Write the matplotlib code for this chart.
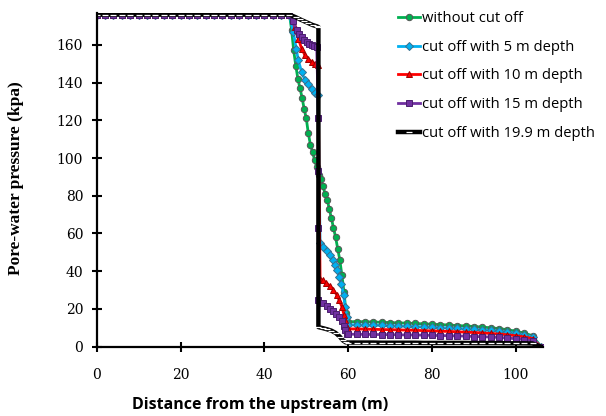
import matplotlib.pyplot as plt

# 上游段 (所有方案相同)
up_x = [0, 2, 4, 6, 8, 10, 12, 14, 16, 18, 20, 22, 24, 26, 28, 30, 32, 34, 36, 38, 40, 42, 44, 46]
up_p = [176.0, 176.0, 176.0, 176.0, 176.0, 176.0, 176.0, 176.0, 176.0, 176.0, 176.0, 176.0,
        176.0, 176.0, 176.0, 176.0, 176.0, 176.0, 176.0, 176.0, 176.0, 176.0, 176.0, 176.0]

# 下游段横坐标
down_x = [60, 62, 64, 66, 68, 70, 72, 74, 76, 78, 80, 82, 84, 86, 88, 90, 92, 94, 96, 98, 100, 102, 104]
end_x = [106]
end_p = [0.0]

# 无截渗墙
green_x = [46.5, 47.0, 47.5, 48.0, 48.5, 49.0, 49.5, 50.0, 50.5, 51.0, 51.5, 52.0, 52.5, 53.0,
           53.5, 54.0, 54.5, 55.0, 55.5, 56.0, 56.5, 57.0, 57.5, 58.0, 58.5, 59.0, 59.5]
green_p = [168, 157, 149, 142, 137, 132, 126, 121, 113, 107, 103, 99, 95, 91,
           89, 85, 81, 78, 73, 68, 63, 58, 52, 46, 38, 29, 18]
green_down = [13.2, 13.3, 13.2, 13.1, 12.9, 12.8, 12.6, 12.5, 12.3, 12.1, 11.9, 11.7,
              11.5, 11.2, 11.0, 10.7, 10.4, 10.0, 9.6, 9.0, 8.2, 7.2, 5.8]

# 5 m
blue_x = [46.9, 47.6, 48.1, 48.9, 49.7, 50.5, 51.3, 52.1, 52.8, 53.3, 54.1, 55.0, 55.7,
          56.3, 56.9, 57.4, 57.9, 58.4, 58.9, 59.3, 59.7]
blue_p = [166.8, 158, 151.8, 145.6, 141.2, 139, 136.5, 134.5, 133.5, 55, 52.9, 50.5, 48.5,
          46, 43.2, 40.5, 37, 33, 27.4, 21, 15.9]
blue_down = [11.6, 11.6, 11.5, 11.4, 11.3, 11.1, 11.0, 10.8, 10.7, 10.5, 10.3, 10.1,
             9.9, 9.7, 9.5, 9.2, 8.9, 8.6, 8.2, 7.7, 7.1, 6.3, 5.0]

# 10 m
red_x = [47.3, 48.1, 48.9, 49.7, 50.5, 51.3, 52.1, 52.8, 53.3, 53.9, 54.8, 55.7, 56.5,
         57.3, 57.9, 58.5, 59.0, 59.3, 59.8]
red_p = [169.4, 163.3, 158, 154.4, 152.5, 151, 150, 149.5, 36, 35.3, 33.8, 32.1, 30,
         27.4, 24.5, 21.2, 17, 14.1, 10.6]
red_down = [9.4, 9.4, 9.3, 9.2, 9.1, 9.0, 8.9, 8.8, 8.7, 8.5, 8.4, 8.2,
            8.1, 7.9, 7.7, 7.5, 7.3, 7.0, 6.7, 6.3, 5.8, 5.2, 4.3]

# 15 m
purple_x = [46.8, 47.7, 48.3, 48.9, 49.5, 50.1, 50.7, 51.3, 51.9, 52.5, 52.9, 52.9, 52.9, 52.9,
            53.9, 54.9, 55.6, 56.4, 57.2, 57.9, 58.5, 58.9, 59.3, 59.7]
purple_p = [172.4, 167.7, 165.8, 164.1, 162.7, 161.5, 160.5, 159.7, 159.2, 158.8, 121, 93, 63, 24.7,
            23, 21.5, 20.2, 18.9, 17.4, 15.9, 13.5, 11.1, 9, 6.7]
purple_down = [6.6, 6.6, 6.5, 6.5, 6.4, 6.4, 6.3, 6.2, 6.2, 6.1, 6.0, 5.9,
               5.8, 5.7, 5.6, 5.4, 5.3, 5.1, 4.9, 4.6, 4.2, 3.8, 3.2]

# 19.9 m
black_x = [47.5, 48.5, 49.5, 50.5, 51.5, 52.5, 52.9, 52.9, 52.9, 52.9, 52.9, 52.9,
           54.0, 55.0, 56.0, 57.0, 58.0, 58.7, 59.4]
black_p = [174.6, 173.5, 172.5, 171.5, 170.5, 169.8, 169.4, 121, 93, 63, 24, 10.4,
           9.8, 9.2, 8.5, 7.3, 5.3, 3.4, 2.3]
black_down = [2.2, 2.2, 2.2, 2.2, 2.1, 2.1, 2.1, 2.1, 2.1, 2.0, 2.0, 2.0,
              2.0, 2.0, 2.0, 1.9, 1.9, 1.9, 1.9, 1.8, 1.8, 1.8, 1.7]

fig = plt.figure(figsize=(6.06, 4.16), dpi=100)
ax = fig.add_axes([0.1596, 0.1666, 0.7365, 0.801])

series = [
    ('without cut off', green_x, green_p, green_down, '#00B050', 'o', 4.6, '#555555'),
    ('cut off with 5 m depth', blue_x, blue_p, blue_down, '#00B0F0', 'D', 3.7, '#3A6E8C'),
    ('cut off with 10 m depth', red_x, red_p, red_down, '#FF0000', '^', 4.6, '#A00000'),
    ('cut off with 15 m depth', purple_x, purple_p, purple_down, '#7030A0', 's', 4.6, '#4B1E6E'),
]
for name, sx, sp, sd, c, m, ms, ec in series:
    xs = up_x + sx + down_x + end_x
    ps = up_p + sp + sd + end_p
    ax.plot(xs, ps, color=c, lw=2.0, marker=m, ms=ms, mfc=c, mec=ec, mew=0.7, label=name)

# 黑线: 粗线加白色短划标记 (竖直段不画标记)
bx = up_x + black_x + down_x + end_x
bp = up_p + black_p + black_down + end_p
n_up = len(up_x)
skip = set(range(n_up + 7, n_up + 11))
marks = [i for i in range(len(bx)) if i not in skip]
ax.plot(bx, bp, color='black', lw=3.2, marker='_', ms=4, mec='white', mew=0.9,
        markevery=marks, label='cut off with 19.9 m depth')

ax.set_xlim(0, 106.5)
ax.set_ylim(0, 176.6)
ax.set_xticks([0, 20, 40, 60, 80, 100])
ax.set_yticks([0, 20, 40, 60, 80, 100, 120, 140, 160])
for s in ['top', 'right']:
    ax.spines[s].set_visible(False)
for s in ['left', 'bottom']:
    ax.spines[s].set_linewidth(1.6)
ax.tick_params(axis='both', direction='inout', length=6.5, width=1.5, labelsize=10)
ax.tick_params(axis='y', pad=6.5)
ax.tick_params(axis='x', pad=12)
for lab in ax.get_xticklabels() + ax.get_yticklabels():
    lab.set_fontfamily('DejaVu Serif')

fig.text(260 / 606, 1 - 405 / 416, 'Distance from the upstream (m)', ha='center', va='center',
         fontfamily='Open Sans', fontweight='bold', fontsize=11.5)
fig.text(16 / 606, 1 - 178 / 416, 'Pore-water pressure (kpa)', ha='center', va='center',
         rotation=90, fontfamily='Liberation Serif', fontweight='bold', fontsize=12.5)

leg = fig.legend(loc='upper left', bbox_to_anchor=(398 / 606, 1 - 11 / 416), frameon=False,
                 prop={'family': 'Open Sans', 'size': 10.6}, handlelength=1.5, handletextpad=0.15,
                 labelspacing=0.93, borderpad=0, borderaxespad=0, numpoints=1)

fig.savefig('out.png', dpi=100)
